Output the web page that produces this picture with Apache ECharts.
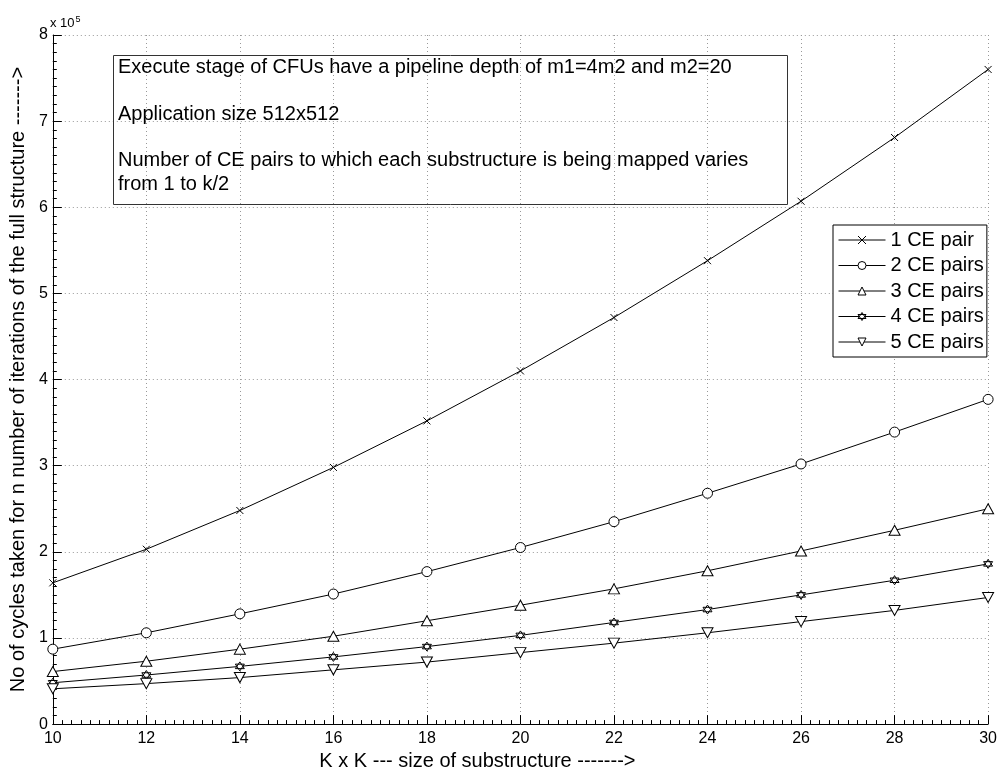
<!DOCTYPE html>
<html>
<head>
<meta charset="utf-8">
<title>CE pairs</title>
<script src="https://cdn.jsdelivr.net/npm/echarts@6/dist/echarts.min.js"></script>
<style>
    html, body {margin: 0; padding: 0; background: #fff;}
    #chart {width: 1000px; height: 776px;}
</style>
</head>
<body>
<div id="chart"></div>
<script>
// substructure size K, values in units of 10^5 cycles
var kSizes = [10, 12, 14, 16, 18, 20, 22, 24, 26, 28, 30];
var seriesNames = ['1 CE pair', '2 CE pairs', '3 CE pairs', '4 CE pairs', '5 CE pairs'];
var pair1 = [1.64, 2.03, 2.48, 2.98, 3.52, 4.10, 4.72, 5.38, 6.07, 6.81, 7.60];
var pair2 = [0.87, 1.06, 1.28, 1.51, 1.77, 2.05, 2.35, 2.68, 3.02, 3.39, 3.77];
var pair3 = [0.61, 0.73, 0.87, 1.02, 1.20, 1.38, 1.57, 1.78, 2.01, 2.25, 2.50];
var pair4 = [0.48, 0.57, 0.67, 0.78, 0.90, 1.03, 1.18, 1.33, 1.50, 1.67, 1.86];
var pair5 = [0.41, 0.47, 0.54, 0.63, 0.72, 0.83, 0.94, 1.06, 1.19, 1.32, 1.47];
var yTicks = [0, 1, 2, 3, 4, 5, 6, 7, 8];
var noteLines = [
    'Execute stage of CFUs have a pipeline depth of m1=4m2 and m2=20',
    '',
    'Application size 512x512',
    '',
    'Number of CE pairs to which each substructure is being mapped varies',
    'from 1 to k/2'
];

var FONT = '"Liberation Sans", Arial, Helvetica, sans-serif';
var markers = [
    {symbol: 'path://M0,0L10,10M10,0L0,10', size: 7},
    {symbol: 'circle', size: 10},
    {symbol: 'path://M5,0L10,8.66L0,8.66Z', size: [11, 10]},
    {symbol: 'path://M5,0L9.33,7.5L0.67,7.5ZM5,10L0.67,2.5L9.33,2.5Z', size: 9},
    {symbol: 'path://M0,0L10,0L5,8.66Z', size: [11, 10]}
];

function zip(xs, ys) {
    return xs.map(function (x, i) { return [x, ys[i]]; });
}

var values = [pair1, pair2, pair3, pair4, pair5];
var series = values.map(function (vals, idx) {
    return {
        name: seriesNames[idx],
        type: 'line',
        data: zip(kSizes, vals),
        symbol: markers[idx].symbol,
        symbolSize: markers[idx].size,
        showSymbol: true,
        lineStyle: {color: '#000', width: 1},
        itemStyle: {color: '#fff', borderColor: '#000', borderWidth: 1},
        emphasis: {disabled: true},
        z: 3
    };
});

var chart = echarts.init(document.getElementById('chart'));
chart.setOption({
    animation: false,
    color: ['#000'],
    grid: {left: 50, right: 11, top: 35, bottom: 45, containLabel: false},
    xAxis: {
        type: 'value', min: 10, max: 30, interval: 2,
        name: 'K x K --- size of substructure ------->',
        nameLocation: 'middle', nameGap: 20,
        nameTextStyle: {fontFamily: FONT, fontSize: 20, color: '#000', padding: [0, 86, 0, 0]},
        axisLine: {lineStyle: {color: '#000', width: 1}},
        axisTick: {inside: true, length: 9, lineStyle: {color: '#000'}},
        minorTick: {show: true, splitNumber: 10, length: 4, lineStyle: {color: '#000'}},
        axisLabel: {fontFamily: FONT, fontSize: 16, color: '#000', margin: 6},
        splitLine: {show: true, lineStyle: {color: '#999', type: [1, 3], width: 1}}
    },
    yAxis: {
        type: 'value', min: yTicks[0], max: yTicks[yTicks.length - 1], interval: 1,
        name: 'No of cycles taken for n number of iterations of the full structure ------->',
        nameLocation: 'middle', nameGap: 13,
        nameTextStyle: {fontFamily: FONT, fontSize: 20, color: '#000'},
        axisLine: {lineStyle: {color: '#000', width: 1}},
        axisTick: {inside: true, length: 9, lineStyle: {color: '#000'}},
        minorTick: {show: true, splitNumber: 10, length: 4, lineStyle: {color: '#000'}},
        axisLabel: {fontFamily: FONT, fontSize: 16, color: '#000', margin: 5},
        splitLine: {show: true, lineStyle: {color: '#999', type: [1, 3], width: 1}}
    },
    legend: {
        orient: 'vertical', left: 833, top: 225,
        data: seriesNames,
        backgroundColor: '#fff', borderColor: '#000', borderWidth: 1,
        padding: [5, 3, 5, 5],
        itemWidth: 47, itemHeight: 10, itemGap: 5.5,
        lineStyle: {width: 1},
        itemStyle: {borderWidth: 1},
        textStyle: {fontFamily: FONT, fontSize: 20, color: '#000', lineHeight: 18},
        selectedMode: false
    },
    graphic: [
        {
            type: 'rect', left: 111, top: 53, z: 10,
            shape: {width: 674, height: 149},
            style: {fill: 'none', stroke: '#333', lineWidth: 1}
        },
        {
            type: 'text', left: 118, top: 56, z: 10,
            style: {
                text: noteLines.join('\n'),
                font: '20px ' + FONT, fill: '#000', lineHeight: 23.3
            }
        },
        {
            type: 'text', left: 50, top: 15, z: 10,
            style: {
                text: '{b|x 10}{s|5}',
                rich: {
                    b: {font: '13px ' + FONT, fill: '#000', verticalAlign: 'bottom'},
                    s: {font: '9px ' + FONT, fill: '#000', verticalAlign: 'top', padding: [0, 0, 6, 1]}
                }
            }
        }
    ],
    series: series
});
</script>
</body>
</html>
